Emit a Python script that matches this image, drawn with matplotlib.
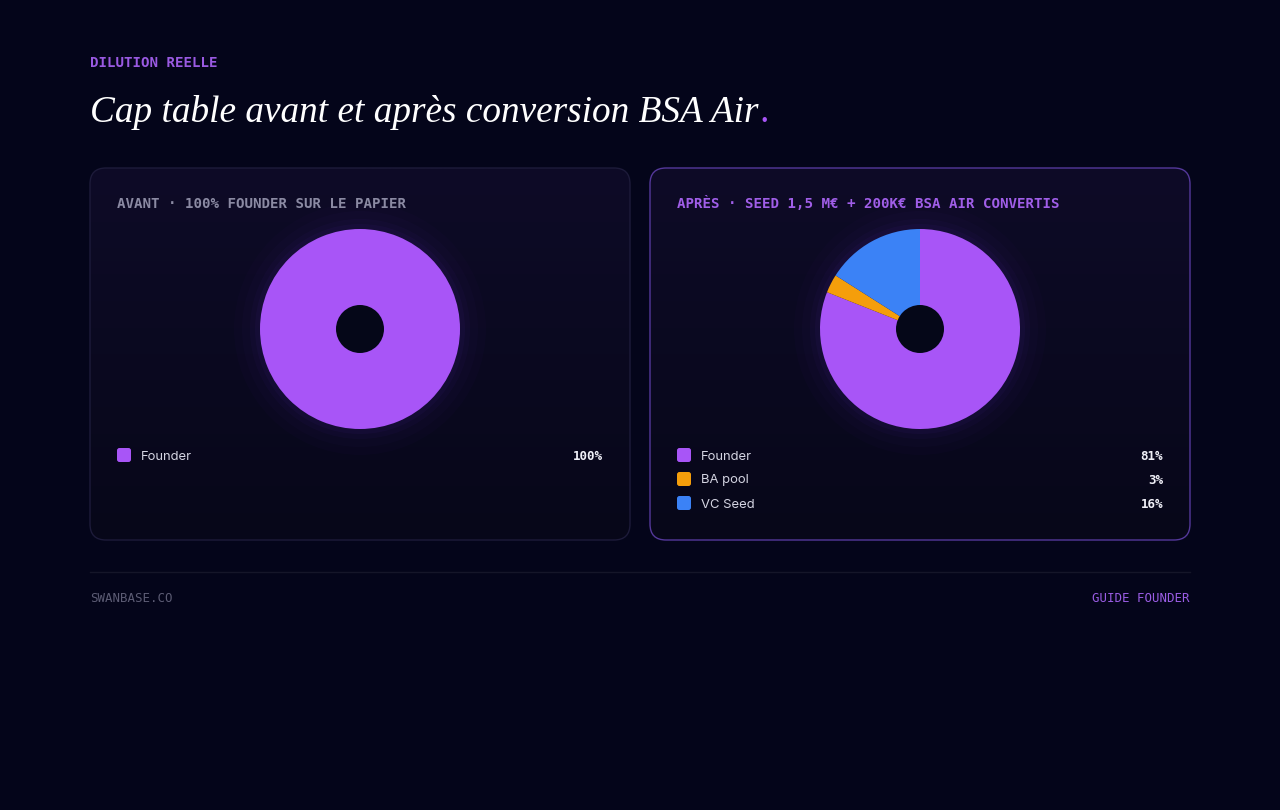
import numpy as np
import matplotlib.pyplot as plt
from matplotlib.colors import LinearSegmentedColormap
from matplotlib.patches import FancyBboxPatch, Circle


# cap table data
before_labels = ["Founder"]
before_values = [100]
before_colors = ["#a855f7"]

after_labels = ["Founder", "BA pool", "VC Seed"]
after_values = [81, 3, 16]
after_colors = ["#a855f7", "#f59e0b", "#3b82f6"]

eyebrow = "DILUTION REELLE"
title = "Cap table avant et après conversion BSA Air"
card_titles = ["AVANT · 100% FOUNDER SUR LE PAPIER",
               "APRÈS · SEED 1,5 M€ + 200K€ BSA AIR CONVERTIS"]
footer_left = "SWANBASE.CO"
footer_right = "GUIDE FOUNDER"

W, H = 1280, 810
BG = "#04051a"
MONO = "DejaVu Sans Mono"

fig = plt.figure(figsize=(W / 100, H / 100), dpi=100, facecolor=BG)

# overlay axes in pixel coordinates
bg = fig.add_axes([0, 0, 1, 1])
bg.set_xlim(0, W)
bg.set_ylim(H, 0)
bg.axis("off")
bg.set_facecolor(BG)

card_cmap = LinearSegmentedColormap.from_list("card", ["#0e0b27", "#070719"])


def draw_card(x0, border):
    card = FancyBboxPatch((x0, 168), 540, 372, boxstyle="round,pad=0,rounding_size=16",
                          facecolor="none", edgecolor=border, linewidth=1.0, zorder=3)
    bg.add_patch(card)
    # vertical gradient fill, clipped to the card
    grad = np.linspace(0, 1, 256).reshape(-1, 1)
    img = bg.imshow(grad, extent=(x0, x0 + 540, 540, 168), cmap=card_cmap, aspect="auto", zorder=1)
    img.set_clip_path(card)


def draw_glow(cx, cy):
    for r, a in [(126, 0.02), (118, 0.025), (110, 0.035), (105, 0.045)]:
        bg.add_patch(Circle((cx, cy), r, facecolor="#7c3aed", alpha=a, linewidth=0, zorder=2))


def draw_pie(cx, cy, values, colors):
    ax = fig.add_axes([(cx - 100) / W, 1 - (cy + 100) / H, 200 / W, 200 / H])
    ax.pie(values, colors=colors, startangle=90, counterclock=False, radius=1.0,
           wedgeprops=dict(linewidth=0))
    ax.add_patch(Circle((0, 0), 0.24, facecolor="#050718", linewidth=0, zorder=5))
    ax.set_xlim(-1, 1)
    ax.set_ylim(-1, 1)
    ax.set_aspect("equal")
    ax.axis("off")


def draw_legend(x0, labels, values, colors):
    for i, (lab, val, col) in enumerate(zip(labels, values, colors)):
        y = 455 + i * 24
        bg.add_patch(FancyBboxPatch((x0 + 27, y - 7), 14, 14, boxstyle="round,pad=0,rounding_size=2.5",
                                    facecolor=col, linewidth=0, zorder=4))
        bg.text(x0 + 51, y, lab, fontsize=9.4, family="Inter", color="#d4d4e2",
                va="center_baseline", ha="left", zorder=4)
        bg.text(x0 + 513, y, f"{val}%", fontsize=9, family=MONO, weight="bold",
                color="#f0f0f8", va="center_baseline", ha="right", zorder=4)


# cards
draw_card(90, "#1d1b3a")
draw_card(650, "#54389a")

draw_glow(360, 329)
draw_glow(920, 329)
draw_pie(360, 329, before_values, before_colors)
draw_pie(920, 329, after_values, after_colors)

draw_legend(90, before_labels, before_values, before_colors)
draw_legend(650, after_labels, after_values, after_colors)

bg.text(117, 204, card_titles[0], fontsize=10.2, family=MONO, weight="bold",
        color="#8b8aa3", va="center", ha="left", zorder=4)
bg.text(677, 204, card_titles[1], fontsize=10.2, family=MONO, weight="bold",
        color="#a05ee8", va="center", ha="left", zorder=4)

# header
bg.text(90, 63, eyebrow, fontsize=10.2, family=MONO, weight="bold", color="#9a5ae2",
        va="center", ha="left")
t = bg.text(90, 122, title, fontsize=26.8, family="Liberation Serif", style="italic",
            color="#ffffff", va="baseline", ha="left")
fig.canvas.draw()
bb = t.get_window_extent()
x_end = bb.x1 * W / fig.bbox.width
bg.text(x_end + 2, 122, ".", fontsize=26.8, family="Liberation Serif", style="italic",
        color="#a855f7", va="baseline", ha="left")

# footer
bg.plot([90, 1190], [572, 572], color="#151629", linewidth=1)
bg.text(90, 598, footer_left, fontsize=8.9, family=MONO, color="#5c5c74", va="center", ha="left")
bg.text(1190, 598, footer_right, fontsize=8.9, family=MONO, color="#9b5de5", va="center", ha="right")

fig.savefig("out.png", dpi=100, facecolor=BG)
